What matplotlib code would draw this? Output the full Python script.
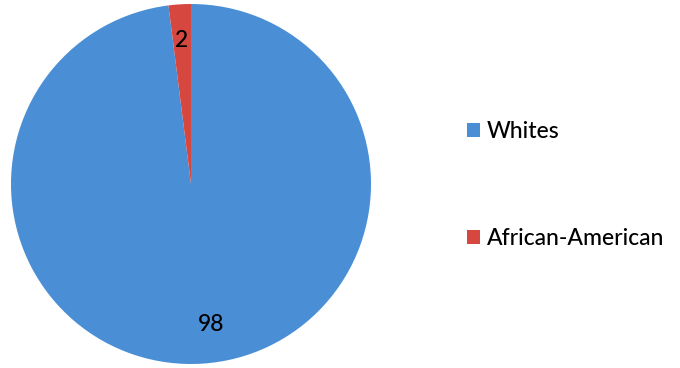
import matplotlib.pyplot as plt

groups = ["Whites", "African-American"]
shares = [98, 2]
colors = ["#4a8fd6", "#d6483f"]

plt.rcParams["font.family"] = ["Lato", "DejaVu Sans"]

fig = plt.figure(figsize=(6.8, 3.68), dpi=100)
ax = fig.add_axes([11 / 680, 4 / 368, 360 / 680, 360 / 368])

wedges, texts, autotexts = ax.pie(
    shares,
    colors=colors,
    startangle=90,
    counterclock=False,
    autopct=lambda p: "%d" % round(p),
    pctdistance=0.8,
    textprops={"fontsize": 16.5, "color": "black", "weight": "medium"},
    wedgeprops={"linewidth": 0},
)
# Excel puts the big label a bit right of the slice middle
x, y = autotexts[0].get_position()
autotexts[0].set_position((x + 0.06, y + 0.02))
ax.set_xlim(-1.0, 1.0)
ax.set_ylim(-1.0, 1.0)
ax.set_aspect("equal")

fig.legend(
    wedges, groups,
    loc="upper left",
    bbox_to_anchor=(456 / 680, 1 - 110 / 368),
    frameon=False,
    prop={"size": 16.5, "weight": "medium"},
    labelspacing=3.75,
    handlelength=0.55,
    handleheight=0.55,
    handletextpad=0.3,
    borderpad=0,
)

fig.savefig("out.png", dpi=100)
